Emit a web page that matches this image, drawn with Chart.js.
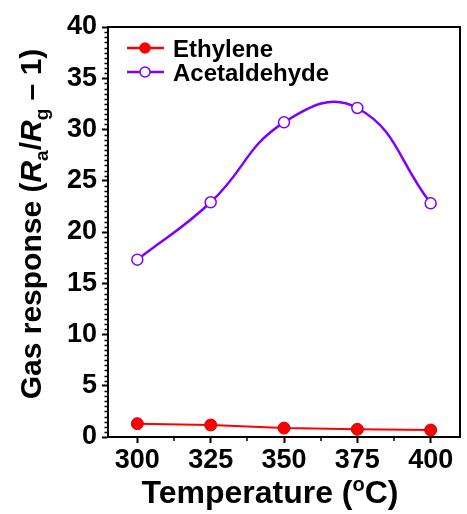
<!DOCTYPE html>
<html>
<head>
<meta charset="utf-8">
<script src="https://cdn.jsdelivr.net/npm/chart.js@4/dist/chart.umd.min.js"></script>
<style>
  html, body { margin: 0; padding: 0; background: #fff; }
  canvas { display: block; }
</style>
</head>
<body>
<canvas id="gasChart" width="467" height="514"></canvas>
<script>
// data
const temps = [300, 325, 350, 375, 400];
const ethylene = [1.3, 1.17, 0.87, 0.75, 0.68];
const acetaldehyde = [17.3, 22.9, 30.7, 32.1, 22.8];
const xTicks = [300, 325, 350, 375, 400];
const yTicks = [0, 5, 10, 15, 20, 25, 30, 35, 40];

const FONT = "'Liberation Sans', Arial, sans-serif";
const RED = '#ff0000';
const PURPLE = '#7f00ff';

const toPoints = vals => temps.map((t, i) => ({ x: t, y: vals[i] }));

// frame, minor ticks, legend and axis titles
const extras = {
  id: 'extras',
  afterDraw(chart) {
    const ctx = chart.ctx;
    const a = chart.chartArea;
    const xs = chart.scales.x, ys = chart.scales.y;
    ctx.save();
    ctx.strokeStyle = '#000';
    ctx.lineWidth = 2;
    ctx.beginPath();
    ctx.moveTo(a.left - 1, a.top);
    ctx.lineTo(a.right, a.top);
    ctx.lineTo(a.right, a.bottom + 1);
    ctx.stroke();

    // minor ticks
    ctx.lineWidth = 1.5;
    ctx.beginPath();
    for (let v = 0.5; v < 40; v += 0.5) {
      if (v % 5 === 0) continue;
      const y = Math.round(ys.getPixelForValue(v)) + 0.5;
      ctx.moveTo(a.left - 3.5, y);
      ctx.lineTo(a.left, y);
    }
    for (let v = 312.5; v < 410; v += 25) {
      const x = Math.round(xs.getPixelForValue(v));
      ctx.moveTo(x, a.bottom);
      ctx.lineTo(x, a.bottom + 4);
    }
    ctx.stroke();

    // legend
    const items = [
      { label: 'Ethylene', color: RED, fill: RED, y: 48 },
      { label: 'Acetaldehyde', color: PURPLE, fill: '#fff', y: 72 }
    ];
    items.forEach(it => {
      ctx.strokeStyle = it.color;
      ctx.lineWidth = 2.5;
      ctx.beginPath();
      ctx.moveTo(127, it.y);
      ctx.lineTo(164, it.y);
      ctx.stroke();
      ctx.beginPath();
      ctx.arc(145, it.y, 5, 0, Math.PI * 2);
      ctx.fillStyle = it.fill;
      ctx.fill();
      ctx.lineWidth = 1.5;
      ctx.stroke();
      ctx.fillStyle = '#000';
      ctx.font = 'bold 24px ' + FONT;
      ctx.textBaseline = 'middle';
      ctx.textAlign = 'left';
      ctx.fillText(it.label, 173, it.y + 2);
    });

    // mixed-style text runs
    const runs = (parts, size) => parts.map(p => {
      const s = p.small ? Math.round(size * 0.62) : size;
      return { t: p.t, font: (p.it ? 'italic ' : '') + 'bold ' + s + 'px ' + FONT, dy: p.sub ? size * 0.22 : (p.sup ? -size * 0.38 : 0) };
    });
    const drawRuns = (rs, cx, cy) => {
      let w = 0;
      rs.forEach(r => { ctx.font = r.font; r.w = ctx.measureText(r.t).width; w += r.w; });
      let x = cx - w / 2;
      ctx.textAlign = 'left';
      ctx.textBaseline = 'alphabetic';
      ctx.fillStyle = '#000';
      rs.forEach(r => { ctx.font = r.font; ctx.fillText(r.t, x, cy + r.dy); x += r.w; });
    };

    drawRuns(runs([
      { t: 'Temperature (' }, { t: 'o', small: true, sup: true }, { t: 'C)' }
    ], 32), 270, 503);

    ctx.translate(41, 224);
    ctx.rotate(-Math.PI / 2);
    drawRuns(runs([
      { t: 'Gas response (' }, { t: 'R', it: true }, { t: 'a', small: true, sub: true },
      { t: '/' }, { t: 'R', it: true }, { t: 'g', small: true, sub: true }, { t: ' \u2013 1)' }
    ], 30), 0, 0);
    ctx.restore();
  }
};

new Chart(document.getElementById('gasChart'), {
  type: 'line',
  data: {
    datasets: [{
      label: 'Acetaldehyde',
      data: toPoints(acetaldehyde),
      borderColor: PURPLE,
      borderWidth: 2.5,
      tension: 0.45,
      pointRadius: 5.5,
      pointBackgroundColor: '#fff',
      pointBorderColor: PURPLE,
      pointBorderWidth: 1.5
    }, {
      label: 'Ethylene',
      data: toPoints(ethylene),
      borderColor: RED,
      borderWidth: 2,
      tension: 0,
      pointRadius: 6,
      pointBackgroundColor: RED,
      pointBorderColor: '#d40000',
      pointBorderWidth: 1
    }]
  },
  options: {
    responsive: false,
    animation: false,
    layout: { padding: { left: 0, right: 2, top: 27, bottom: 0 } },
    plugins: { legend: { display: false }, tooltip: { enabled: false } },
    scales: {
      x: {
        type: 'linear',
        min: 290,
        max: 410,
        afterBuildTicks: s => { s.ticks = xTicks.map(v => ({ value: v })); },
        afterFit: s => { s.height = 77; },
        grid: { drawOnChartArea: false, tickLength: 6, tickWidth: 2, tickColor: '#000' },
        border: { color: '#000', width: 2 },
        ticks: { color: '#000', padding: 1, maxRotation: 0, font: { family: FONT, weight: 'bold', size: 27 } }
      },
      y: {
        min: 0,
        max: 40,
        afterBuildTicks: s => { s.ticks = yTicks.map(v => ({ value: v })); },
        afterFit: s => { s.width = 108; },
        grid: { drawOnChartArea: false, tickLength: 6, tickWidth: 2, tickColor: '#000' },
        border: { color: '#000', width: 2 },
        ticks: { color: '#000', padding: 5, font: { family: FONT, weight: 'bold', size: 27 } }
      }
    }
  },
  plugins: [extras]
});
</script>
</body>
</html>
